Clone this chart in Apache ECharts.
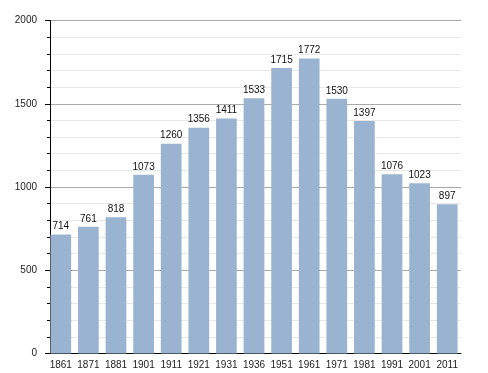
<!DOCTYPE html>
<html><head><meta charset="utf-8">
<script src="https://cdn.jsdelivr.net/npm/echarts@6/dist/echarts.min.js"></script>
<style>html,body{margin:0;padding:0;background:#fff}#c{width:488px;height:373px}</style>
</head><body><div id="c"></div>
<script>
var categories = ['1861','1871','1881','1901','1911','1921','1931','1936','1951','1961','1971','1981','1991','2001','2011'];
var population = [714,761,818,1073,1260,1356,1411,1533,1715,1772,1530,1397,1076,1023,897];
var yTicks = [0,500,1000,1500,2000];

var chart = echarts.init(document.getElementById('c'), null, {renderer:'canvas'});
chart.setOption({
  animation:false,
  backgroundColor:'#fff',
  grid:{left:47,right:27,top:20.5,bottom:19.5,containLabel:false},
  xAxis:{
    type:'category', data:categories,
    axisLine:{show:true,lineStyle:{color:'#000',width:1}},
    axisTick:{show:false},
    axisLabel:{interval:0,color:'#222',fontSize:10,fontFamily:'Liberation Sans, Arial, sans-serif',margin:7},
    splitLine:{show:false}
  },
  yAxis:{
    type:'value', min:yTicks[0], max:yTicks[yTicks.length-1], interval:500,
    offset:-3,
    axisLine:{show:true,lineStyle:{color:'#000',width:1}},
    axisTick:{show:true,inside:false,length:5,lineStyle:{color:'#000'}},
    minorTick:{show:true,splitNumber:5,length:3,lineStyle:{color:'#000'}},
    axisLabel:{color:'#222',fontSize:10,fontFamily:'Liberation Sans, Arial, sans-serif',margin:13,formatter:function(v){return String(v);}},
    splitLine:{show:true,lineStyle:{color:'#aaaaaa',width:1}},
    minorSplitLine:{show:true,lineStyle:{color:'#e8e8e8',width:1}}
  },
  series:[{
    type:'bar', data:population,
    barWidth:20.7,
    itemStyle:{color:'#99b3d0'},
    label:{show:true,position:'top',distance:3,color:'#111',fontSize:10,fontFamily:'Liberation Sans, Arial, sans-serif'}
  }]
});
</script></body></html>
